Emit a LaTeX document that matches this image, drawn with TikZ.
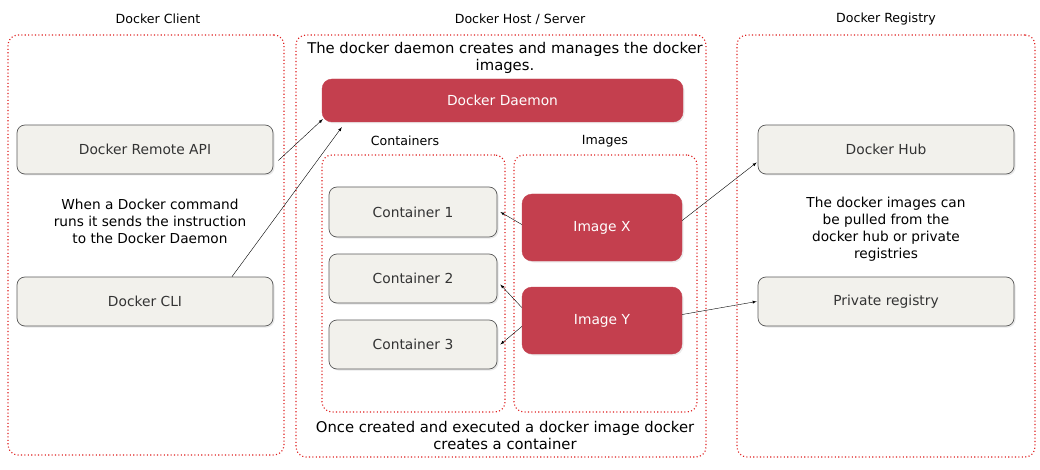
\documentclass[tikz,border=0pt]{standalone}
\usepackage{fontspec}
\setmainfont{DejaVu Sans}
\usetikzlibrary{arrows, shadows, calc, positioning}
\definecolor{dockRed}{RGB}{196,63,78}
\definecolor{zoneRed}{RGB}{222,30,30}
\definecolor{boxFill}{RGB}{242,241,236}
\definecolor{boxLine}{RGB}{90,90,90}
\definecolor{boxText}{RGB}{51,51,51}
\tikzset{
    zoneBox/.style={draw=zoneRed, line width=1.1pt, dash pattern=on 1.1pt off 2.3pt, rounded corners=10pt, inner sep=0pt},
    grayBox/.style={draw=boxLine, line width=0.7pt, fill=boxFill, rounded corners=8pt, inner sep=0pt, text=boxText, font=\fontsize{13.8}{16}\selectfont,
        drop shadow={opacity=0.18, shadow xshift=1.5pt, shadow yshift=-1.5pt}},
    redBox/.style={draw=dockRed, fill=dockRed, rounded corners=10pt, inner sep=0pt, text=white, font=\fontsize{13.8}{16}\selectfont,
        drop shadow={opacity=0.15, shadow xshift=1.5pt, shadow yshift=-1.5pt}},
    zoneTitle/.style={inner sep=0pt, font=\fontsize{12.6}{15}\selectfont},
    noteText/.style={inner sep=0pt, align=center, font=\fontsize{13.7}{17}\selectfont},
    hostText/.style={inner sep=0pt, align=center, font=\fontsize{14.8}{17}\selectfont},
    dockEdge/.style={->, >=latex, thin},
}
\newcommand{\drawLink}[2]{
    \draw[dockEdge] (#1) -- (#2);
}

\begin{document}
\begin{tikzpicture}[x=1pt, y=-1pt]
        \useasboundingbox (0,0) rectangle (1040,470);

        % zones
        \node[zoneBox, minimum width=276pt, minimum height=420pt] (client) at (146,245) {};
        \node[zoneBox, minimum width=410pt, minimum height=422pt] (host) at (501,246) {};
        \node[zoneBox, minimum width=298pt, minimum height=422pt] (registry) at (886,246) {};
        \node[zoneBox, minimum width=183pt, minimum height=257pt] (contzone) at (413.5,283.5) {};
        \node[zoneBox, minimum width=183pt, minimum height=257pt] (imgzone) at (605.5,283.5) {};

        % titles
        \node[zoneTitle] (clientT) at (158,19) {Docker Client};
        \node[zoneTitle] (hostT) at (520,19) {Docker Host / Server};
        \node[zoneTitle] (registryT) at (886,19) {Docker Registry};
        \node[zoneTitle] (contT) at (405,141) {Containers};
        \node[zoneTitle] (imgT) at (605,141) {Images};

        % client side
        \node[grayBox, minimum width=256pt, minimum height=49pt] (api) at (145,149.5) {Docker Remote API};
        \node[grayBox, minimum width=256pt, minimum height=49pt] (cli) at (145,301.5) {Docker CLI};
        \node[noteText] (clientN) at (150,221) {When a Docker command\\runs it sends the instruction\\to the Docker Daemon};

        % host side
        \node[hostText] (hostN) at (505,57.5) {The docker daemon creates and manages the docker\\images.};
        \node[redBox, minimum width=361pt, minimum height=43pt] (daemon) at (502.5,100.5) {Docker Daemon};
        \node[grayBox, minimum width=168pt, minimum height=50pt] (c1) at (413,212) {Container 1};
        \node[grayBox, minimum width=168pt, minimum height=49pt] (c2) at (413,278.5) {Container 2};
        \node[grayBox, minimum width=168pt, minimum height=49pt] (c3) at (413,344.5) {Container 3};
        \node[redBox, minimum width=160pt, minimum height=67pt] (imgx) at (602,227.5) {Image X};
        \node[redBox, minimum width=160pt, minimum height=67pt] (imgy) at (602,320.5) {Image Y};
        \node[hostText] (hostB) at (505,435.5) {Once created and executed a docker image docker\\creates a container};

        % registry side
        \node[grayBox, minimum width=256pt, minimum height=49pt] (hub) at (886,149.5) {Docker Hub};
        \node[grayBox, minimum width=256pt, minimum height=49pt] (priv) at (886,301.5) {Private registry};
        \node[noteText] (registryN) at (886,229.5) {The docker images can\\be pulled from the\\docker hub or private\\registries};

        \drawLink{[xshift=5pt, yshift=-11pt]api.east}{[xshift=1pt, yshift=3pt]daemon.south west}
        \drawLink{[xshift=87pt]cli.north}{[xshift=20pt, yshift=-5pt]daemon.south west}
        \drawLink{[yshift=3pt]imgx.west}{[xshift=3pt]c1.east}
        \drawLink{[yshift=13pt]imgy.west}{[xshift=3pt, yshift=-6pt]c2.east}
        \drawLink{[yshift=-6pt]imgy.west}{[xshift=3pt]c3.east}
        \drawLink{[yshift=7pt]imgx.east}{[xshift=-1pt, yshift=-13pt]hub.west}
        \drawLink{[yshift=6pt]imgy.east}{[xshift=-1pt]priv.west}

    \end{tikzpicture}
\end{document}
